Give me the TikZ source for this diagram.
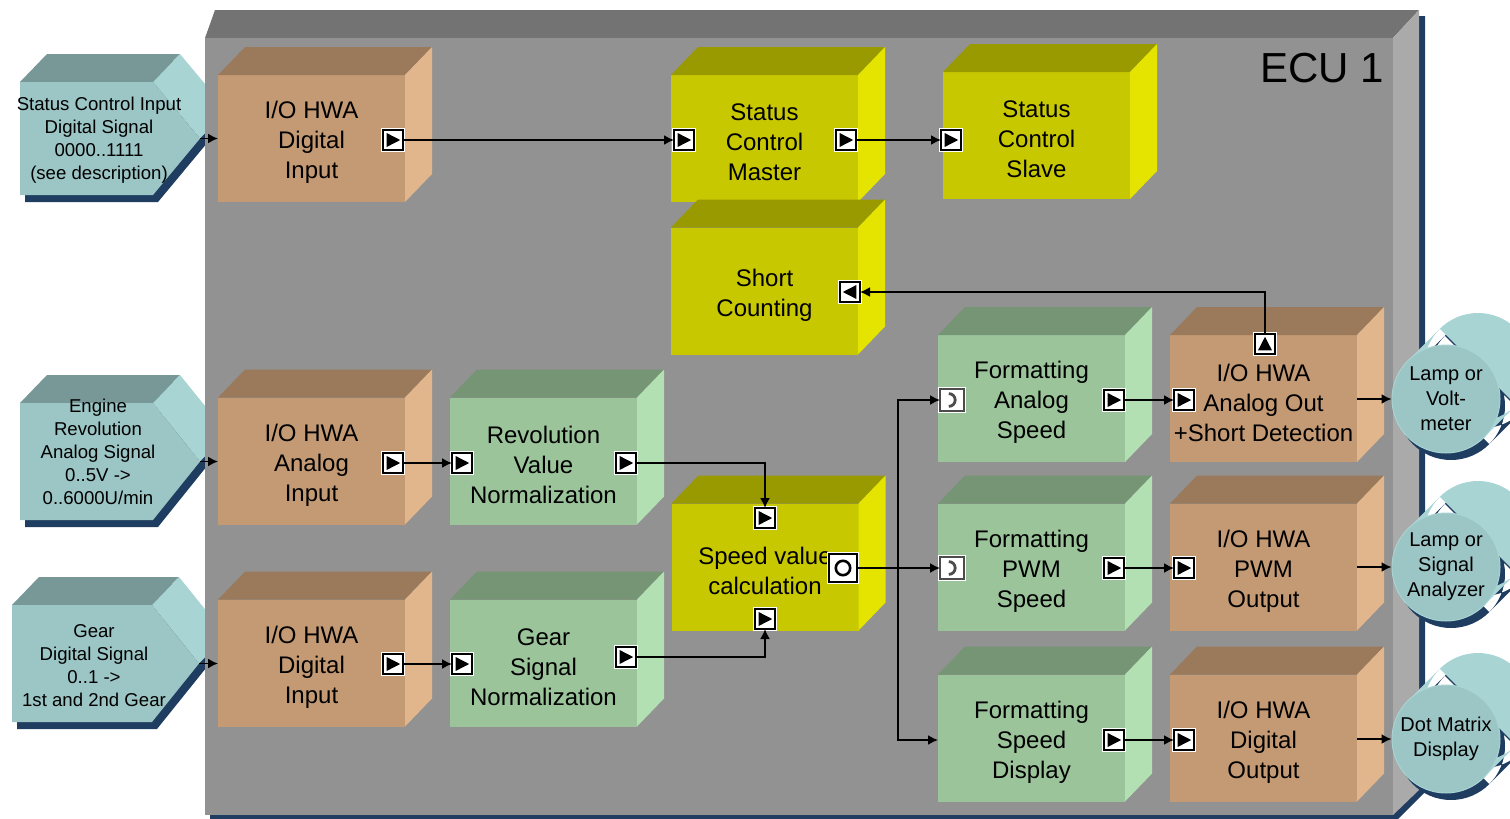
\documentclass[tikz,border=0pt]{standalone}
\usepackage{fontspec}
\setmainfont{Liberation Sans}
\usepackage{tikz}
\usetikzlibrary{arrows.meta}
\definecolor{EcuFront}{RGB}{146, 146, 146}
\definecolor{EcuTop}{RGB}{115, 115, 115}
\definecolor{EcuSide}{RGB}{170, 170, 170}
\definecolor{ShadowBlue}{RGB}{31, 61, 96}
\definecolor{TealFront}{RGB}{156, 197, 197}
\definecolor{TealTop}{RGB}{120, 152, 152}
\definecolor{TealSide}{RGB}{168, 212, 212}
\definecolor{BrownFront}{RGB}{196, 154, 116}
\definecolor{BrownTop}{RGB}{155, 122, 92}
\definecolor{BrownSide}{RGB}{226, 182, 140}
\definecolor{YellowFront}{RGB}{200, 200, 0}
\definecolor{YellowTop}{RGB}{153, 153, 0}
\definecolor{YellowSide}{RGB}{228, 228, 0}
\definecolor{GreenFront}{RGB}{155, 196, 155}
\definecolor{GreenTop}{RGB}{117, 149, 117}
\definecolor{GreenSide}{RGB}{178, 224, 178}

% block with top and side face
\newcommand{\ecublock}[5]{%
  \node[blk, fill=#4Front] (#1) at (#2,#3) {};
  \fill[#4Top] (#1.north west) -- ++(27,-28) -- ([shift={(27,-28)}]#1.north east) -- (#1.north east) -- cycle;
  \fill[#4Side] (#1.north east) -- ++(27,-28) -- ([shift={(27,-28)}]#1.south east) -- (#1.south east) -- cycle;
  \node[blktext] (#1txt) at ([yshift=-2pt]#1.center) {#5};
}
% signal source prism
\newcommand{\sigshape}[4]{%
  \pgfmathsetmacro{\ym}{(#3+#4)/2}
  \fill[ShadowBlue, shift={(5,7)}] (#1,#3) -- (#1+27,#3-28) -- (#2+27,#3-28) -- (#2+74,\ym-28) -- (#2+47,\ym) -- (#2,#4) -- (#1,#4) -- cycle;
  \fill[TealTop] (#1,#3) -- (#1+27,#3-28) -- (#2+27,#3-28) -- (#2,#3) -- cycle;
  \fill[TealSide] (#2,#3) -- (#2+27,#3-28) -- (#2+74,\ym-28) -- (#2+47,\ym) -- cycle;
  \fill[TealFront] (#1,#3) -- (#2,#3) -- (#2+47,\ym) -- (#2,#4) -- (#1,#4) -- cycle;
}

\begin{document}
\begin{tikzpicture}[x=0.5pt, y=-0.5pt,
    sig/.style={-{Latex[length=5pt,width=5pt]}, line width=0.8pt},
    blk/.style={rectangle, minimum width=93.5pt, minimum height=63.5pt, inner sep=0pt, outer sep=0pt},
    blktext/.style={align=center, inner sep=0pt, font=\fontsize{12}{15}\selectfont},
    srctext/.style={align=center, inner sep=0pt, font=\fontsize{9.3}{11.5}\selectfont},
    cyl/.style={circle, fill=TealFront, draw=TealSide, line width=0.5pt, minimum size=54pt, inner sep=0pt, align=center, font=\fontsize{10}{12.5}\selectfont},
    port/.style={rectangle, draw=black, line width=1pt, fill=white, minimum size=10pt, inner sep=0pt, outer sep=0pt, preaction={draw=white, line width=2.2pt}},
    portR/.style={port, path picture={\fill[black] ([shift={(1.8pt,1.5pt)}]path picture bounding box.south west) -- ([shift={(-1.4pt,0pt)}]path picture bounding box.east) -- ([shift={(1.8pt,-1.5pt)}]path picture bounding box.north west) -- cycle;}},
    portL/.style={port, path picture={\fill[black] ([shift={(-1.8pt,1.5pt)}]path picture bounding box.south east) -- ([shift={(1.4pt,0pt)}]path picture bounding box.west) -- ([shift={(-1.8pt,-1.5pt)}]path picture bounding box.north east) -- cycle;}},
    portU/.style={port, path picture={\fill[black] ([shift={(1.5pt,1.8pt)}]path picture bounding box.south west) -- ([shift={(0pt,-1.4pt)}]path picture bounding box.north) -- ([shift={(-1.5pt,1.8pt)}]path picture bounding box.south east) -- cycle;}},
    portC/.style={port, draw=black!70, line width=0.8pt, minimum width=12pt, minimum height=11pt, path picture={\draw[line width=1.4pt] ([shift={(-1.6pt,3.2pt)}]path picture bounding box.center) arc[start angle=90, end angle=-90, radius=3.2pt];}},
    portO/.style={port, minimum size=14pt, path picture={\draw[line width=1.3pt] (path picture bounding box.center) circle (3.6pt);}}]
  \useasboundingbox (0,0) rectangle (1510,819);

  % Signal sources
  \sigshape{20}{153}{82}{195}
  \sigshape{20}{153}{403}{520}
  \sigshape{12}{152}{605}{722}
  \node[srctext] (scin) at (99,140) {Status Control Input\\Digital Signal\\0000..1111\\(see description)};
  \coordinate (scintip) at (200,138.5);
  \node[srctext] (engin) at (98,452) {Engine\\Revolution\\Analog Signal\\0..5V ->\\0..6000U/min};
  \coordinate (engintip) at (200,461.5);
  \node[srctext] (gearin) at (94,666) {Gear\\Digital Signal\\0..1 ->\\1st and 2nd Gear};
  \coordinate (gearintip) at (199,663.5);

  % ECU housing
  \fill[ShadowBlue] (210,810) -- (1393,810) -- (1419,785) -- (1419,16) -- (1425,16) -- (1425,792) -- (1398,819) -- (210,819) -- cycle;
  \fill[EcuTop] (205,38) -- (215,10) -- (1419,10) -- (1393,38) -- cycle;
  \fill[EcuSide] (1393,38) -- (1419,10) -- (1419,790) -- (1393,815) -- cycle;
  \fill[EcuFront] (205,38) rectangle (1393,815);
  \node[font=\fontsize{21}{25}\selectfont] (ecu) at (1322,68) {ECU 1};

  % Blocks
  \ecublock{io1}{311.5}{138.5}{Brown}{I/O HWA\\Digital\\Input}
  \ecublock{scm}{764.5}{138.5}{Yellow}{Status\\Control\\Master}
  \ecublock{scs}{1036.5}{135.5}{Yellow}{Status\\Control\\Slave}
  \ecublock{sc}{764.5}{291}{Yellow}{Short\\Counting}
  \ecublock{io2}{311.5}{461}{Brown}{I/O HWA\\Analog\\Input}
  \ecublock{rvn}{543.5}{461}{Green}{Revolution\\Value\\Normalization}
  \ecublock{svc}{765}{567}{Yellow}{Speed value\\calculation}
  \ecublock{io3}{311.5}{663}{Brown}{I/O HWA\\Digital\\Input}
  \ecublock{gsn}{543.5}{663}{Green}{Gear\\Signal\\Normalization}
  \ecublock{fas}{1031.5}{398.5}{Green}{Formatting\\Analog\\Speed}
  \ecublock{ioao}{1263.5}{398.5}{Brown}{I/O HWA\\Analog Out\\+Short Detection}
  \ecublock{fps}{1031.5}{567}{Green}{Formatting\\PWM\\Speed}
  \ecublock{iopwm}{1263.5}{567}{Brown}{I/O HWA\\PWM\\Output}
  \ecublock{fsd}{1031.5}{738}{Green}{Formatting\\Speed\\Display}
  \ecublock{iodo}{1263.5}{738}{Brown}{I/O HWA\\Digital\\Output}

  % Ports
  \foreach \nm/\x/\y in {io1o/393/140, scmi/684/140, scmo/846/140, scsi/951/140,
      io2o/393/463, rvni/462/463, rvno/626/463, svct/765/518, svcb/765/619,
      io3o/393/664, gsni/462/664, gsno/626/657, faso/1114/400, ioaoi/1184/400,
      fpso/1114/568, iopwmi/1184/568, fsdo/1114/740, iodoi/1184/740}
    \node[portR] (\nm) at (\x,\y) {};
  \node[portL] (sci) at (850,292) {};
  \node[portU] (ioaot) at (1265,344) {};
  \node[portC] (fasi) at (952,400) {};
  \node[portC] (fpsi) at (952,568) {};
  \node[portO] (svco) at (843,568) {};

  % Output devices
  \foreach \cy/\nm/\txt in {399/lamp1/{Lamp or\\Volt-\\meter}, 567/lamp2/{Lamp or\\Signal\\Analyzer}, 739/dotm/{Dot Matrix\\Display}} {
    \fill[ShadowBlue, shift={(5,7)}] (1446,\cy) circle (27pt) (1478,\cy-32) circle (27pt)
      (1446-38.2,\cy-38.2) -- ++(32,-32) -- (1446+38.2+32,\cy+38.2-32) -- (1446+38.2,\cy+38.2) -- cycle;
    \fill[TealSide] (1478,\cy-32) circle (27pt)
      (1446-38.2,\cy-38.2) -- ++(32,-32) -- (1446+38.2+32,\cy+38.2-32) -- (1446+38.2,\cy+38.2) -- cycle;
    \node[cyl] (\nm) at (1446,\cy) {\txt};
  }

  % Connections
  \draw[sig] (scintip) -- (scintip -| io1.west);
  \draw[sig] (engintip) -- (engintip -| io2.west);
  \draw[sig] (gearintip) -- (gearintip -| io3.west);
  \draw[sig] (io1o) -- (scmi);
  \draw[sig] (scmo) -- (scsi);
  \draw[sig] (ioaot) |- (sci);
  \draw[sig] (io2o) -- (rvni);
  \draw[sig] (rvno) -| (svct);
  \draw[sig] (io3o) -- (gsni);
  \draw[sig] (gsno) -| (svcb);
  \draw[sig] (svco) -- (fpsi);
  \coordinate (split) at (898,568);
  \draw[sig] (split) |- (fasi);
  \draw[sig] (split) |- (fsdo -| fsd.west);
  \draw[sig] (faso) -- (ioaoi);
  \draw[sig] (fpso) -- (iopwmi);
  \draw[sig] (fsdo) -- (iodoi);
  \draw[sig] (ioao.east |- lamp1) -- (lamp1);
  \draw[sig] (iopwm.east |- lamp2) -- (lamp2);
  \draw[sig] (iodo.east |- dotm) -- (dotm);
\end{tikzpicture}
\end{document}
